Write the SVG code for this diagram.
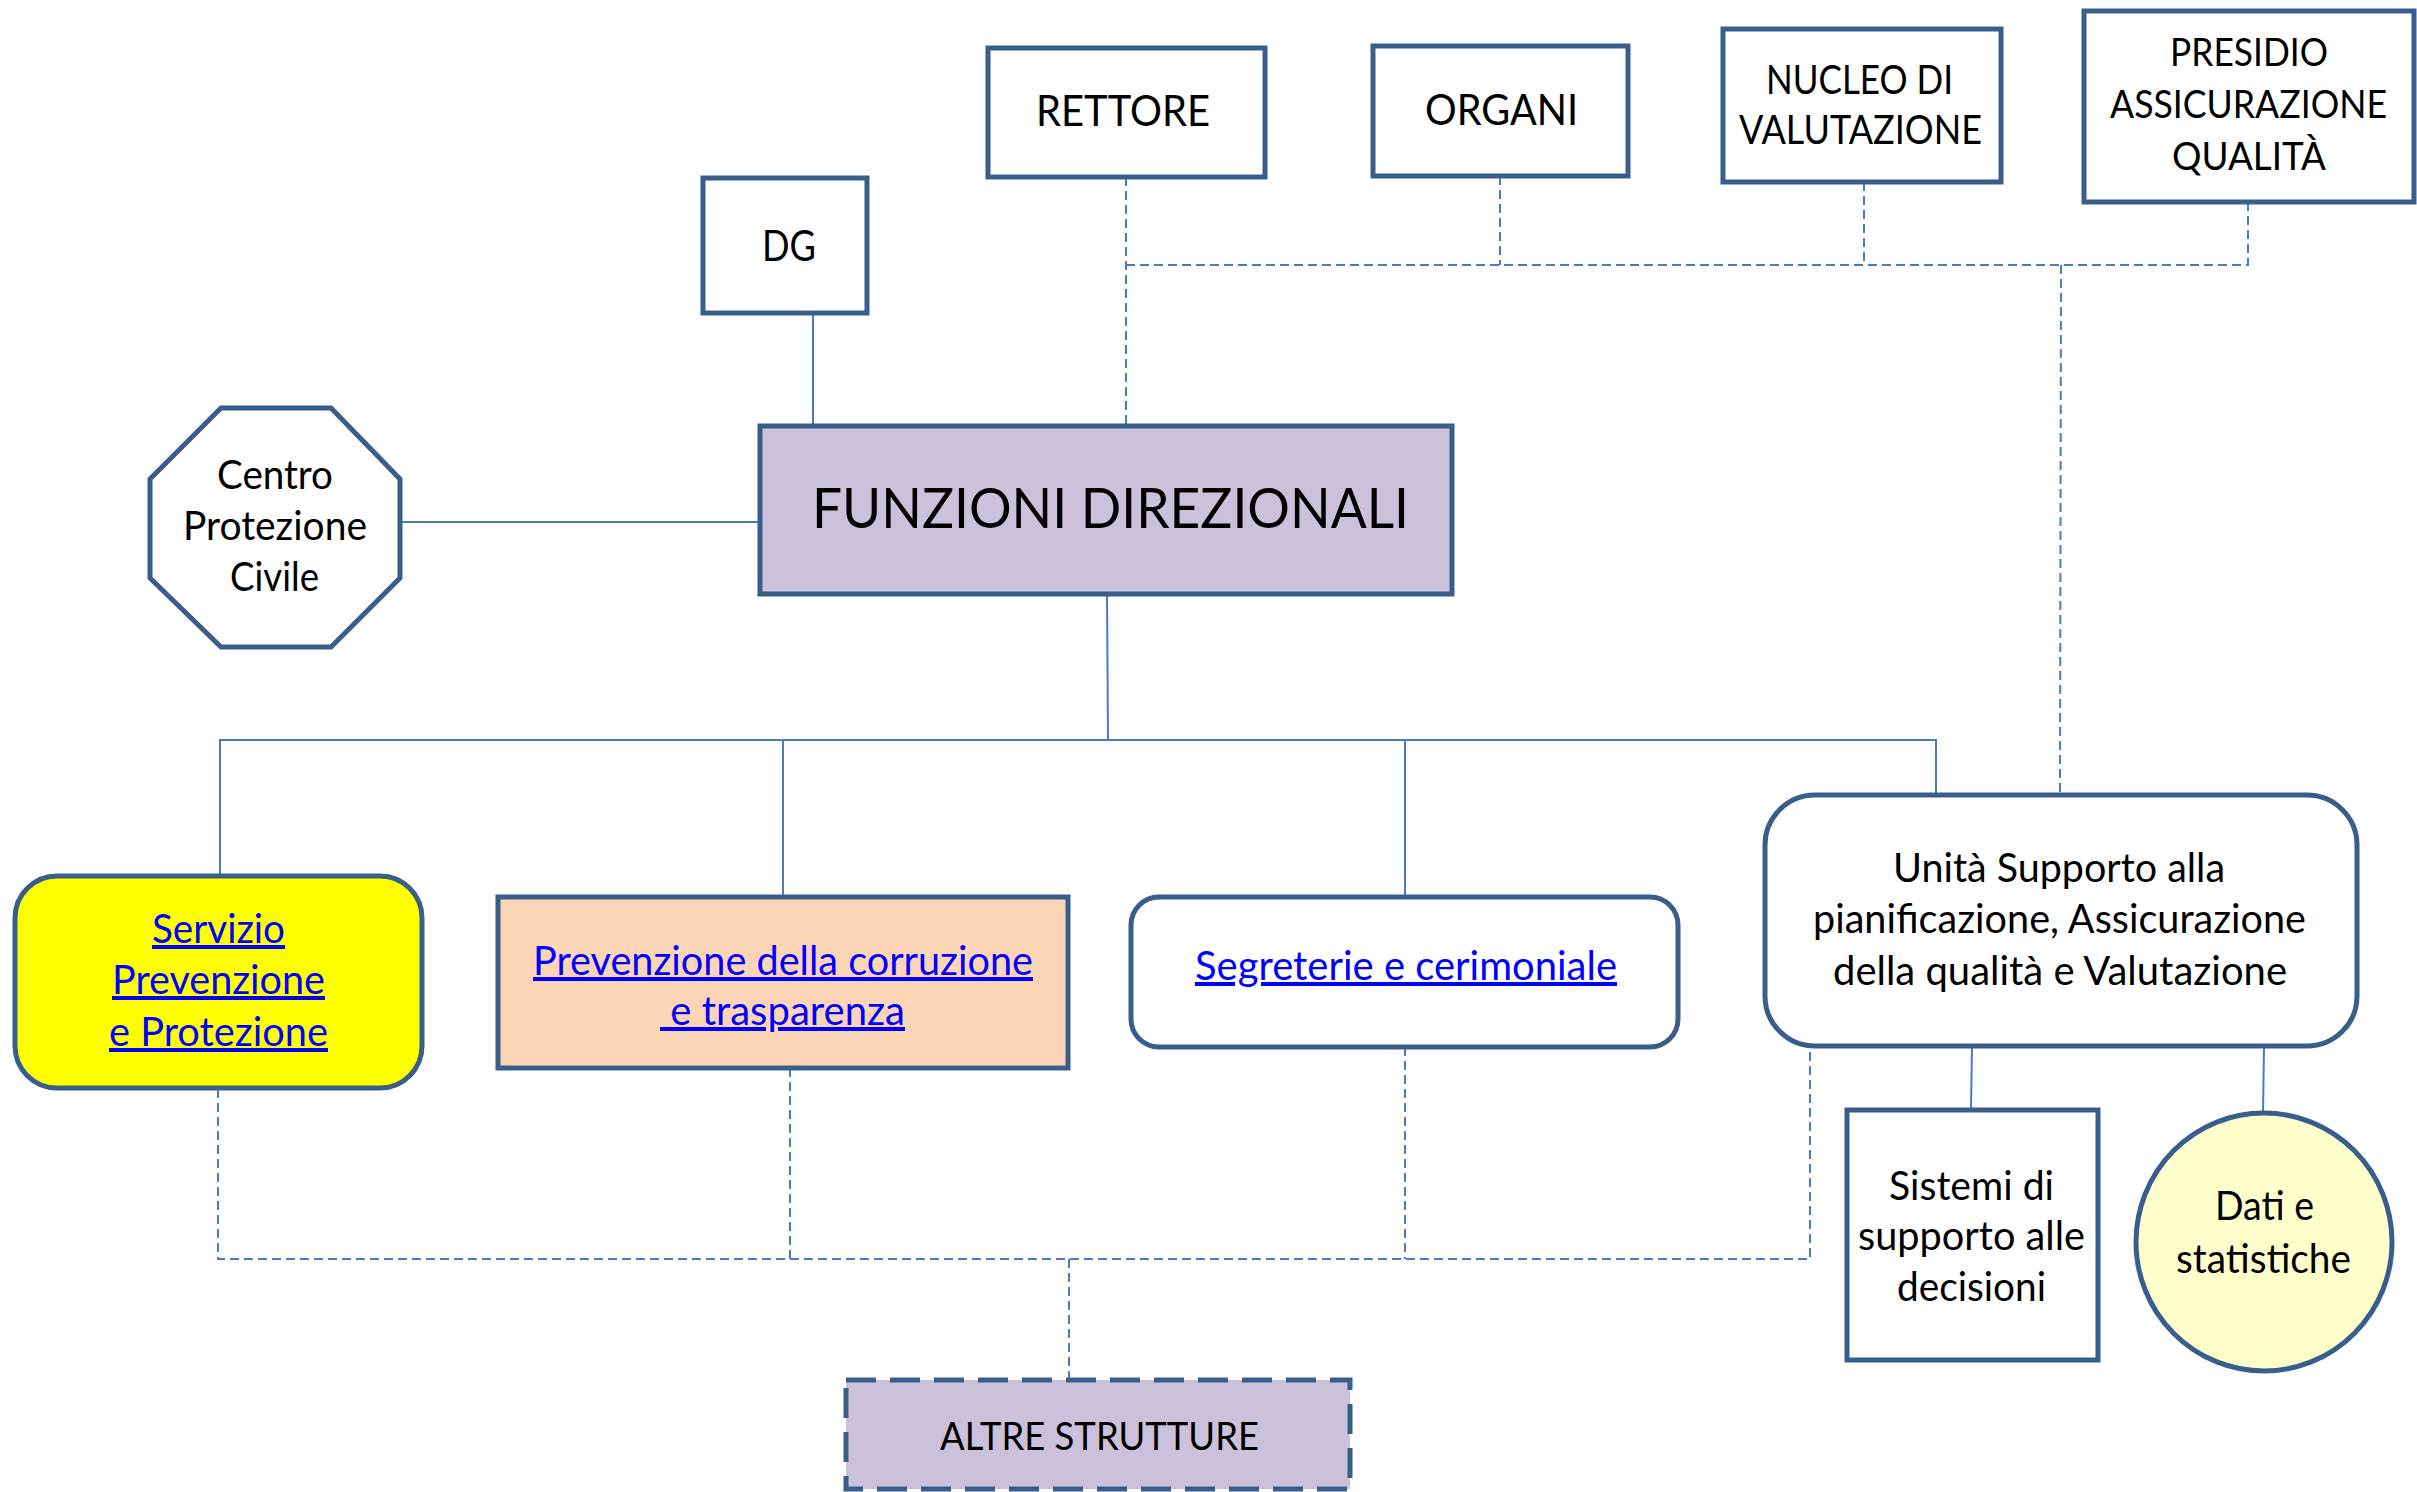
<svg xmlns="http://www.w3.org/2000/svg" width="2417" height="1492" viewBox="0 0 2417 1492">
<style>
.n{stroke:#3A5E8C;stroke-width:5;fill:#fff}
.t{font-family:Lato,"Open Sans",sans-serif;fill:#000}
.l{fill:#0000FF;text-decoration:underline}
.c{stroke:#4A7EBB;stroke-width:2;fill:none}
.d{stroke:#4A7EBB;stroke-width:2;fill:none;stroke-dasharray:9 5}
</style>
<rect width="2417" height="1492" fill="#fff"/>
<g id="connectors">
<line class="c" x1="813" y1="313" x2="813" y2="426"/>
<line class="c" x1="400" y1="522" x2="760" y2="522"/>
<polyline class="c" points="1107,594 1108,740"/>
<polyline class="c" points="220,875 220,740 1936,740 1936,793"/>
<line class="c" x1="783" y1="740" x2="783" y2="897"/>
<line class="c" x1="1405" y1="740" x2="1405" y2="897"/>
<line class="c" x1="1972" y1="1046" x2="1971" y2="1110"/>
<line class="c" x1="2264" y1="1046" x2="2263" y2="1113"/>
<line class="d" x1="1126" y1="177" x2="1126" y2="426"/>
<polyline class="d" points="1126,265 2248,265 2248,202"/>
<line class="d" x1="1500" y1="176" x2="1500" y2="265"/>
<line class="d" x1="1864" y1="182" x2="1864" y2="265"/>
<line class="d" x1="2061" y1="265" x2="2060" y2="793"/>
<polyline class="d" points="218,1089 218,1259 1810,1259 1810,1046"/>
<line class="d" x1="790" y1="1068" x2="790" y2="1259"/>
<line class="d" x1="1405" y1="1047" x2="1405" y2="1259"/>
<line class="d" x1="1069" y1="1259" x2="1069" y2="1378"/>
</g>
<g id="dg"><rect class="n" x="703" y="178" width="164" height="135"/>
<text class="t" x="762" y="261" textLength="54" lengthAdjust="spacingAndGlyphs" style="font-size:42px">DG</text></g>
<g id="rettore"><rect class="n" x="988" y="48" width="277" height="129"/>
<text class="t" x="1036" y="126" textLength="174" lengthAdjust="spacingAndGlyphs" style="font-size:42px">RETTORE</text></g>
<g id="organi"><rect class="n" x="1373" y="46" width="255" height="130"/>
<text class="t" x="1425" y="125" textLength="153" lengthAdjust="spacingAndGlyphs" style="font-size:42px">ORGANI</text></g>
<g id="nucleo"><rect class="n" x="1723" y="29" width="278" height="153"/>
<text class="t" x="1766" y="94" textLength="187" lengthAdjust="spacingAndGlyphs" style="font-size:40px">NUCLEO DI</text>
<text class="t" x="1739" y="144" textLength="243" lengthAdjust="spacingAndGlyphs" style="font-size:40px">VALUTAZIONE</text></g>
<g id="presidio"><rect class="n" x="2084" y="11" width="330" height="191"/>
<text class="t" x="2170" y="66" textLength="158" lengthAdjust="spacingAndGlyphs" style="font-size:39px">PRESIDIO</text>
<text class="t" x="2110" y="118" textLength="277" lengthAdjust="spacingAndGlyphs" style="font-size:39px">ASSICURAZIONE</text>
<text class="t" x="2172" y="170" textLength="154" lengthAdjust="spacingAndGlyphs" style="font-size:39px">QUALITÀ</text></g>
<g id="centro"><polygon class="n" points="221,408 331,408 400,479 400,578 331,647 221,647 150,578 150,479"/>
<text class="t" x="217" y="489" textLength="116" lengthAdjust="spacingAndGlyphs" style="font-size:40px">Centro</text>
<text class="t" x="183" y="540" textLength="184" lengthAdjust="spacingAndGlyphs" style="font-size:40px">Protezione</text>
<text class="t" x="230" y="591" textLength="89" lengthAdjust="spacingAndGlyphs" style="font-size:40px">Civile</text></g>
<g id="funzioni"><rect class="n" x="760" y="426" width="692" height="168" style="fill:#CCC1DA"/>
<text class="t" x="812" y="528" textLength="597" lengthAdjust="spacingAndGlyphs" style="font-size:56px">FUNZIONI DIREZIONALI</text></g>
<g id="servizio"><rect class="n" x="15" y="876" width="407" height="212" rx="42" style="fill:#FFFF00"/>
<text class="t l" x="152" y="943" textLength="133" lengthAdjust="spacingAndGlyphs" style="font-size:40px">Servizio</text>
<text class="t l" x="112" y="994" textLength="213" lengthAdjust="spacingAndGlyphs" style="font-size:40px">Prevenzione</text>
<text class="t l" x="109" y="1046" textLength="219" lengthAdjust="spacingAndGlyphs" style="font-size:40px">e Protezione</text></g>
<g id="corruzione"><rect class="n" x="498" y="897" width="570" height="171" style="fill:#FBD5B5"/>
<text class="t l" x="533" y="975" textLength="500" lengthAdjust="spacingAndGlyphs" style="font-size:40px">Prevenzione della corruzione</text>
<text class="t l" x="660" y="1025" textLength="245" lengthAdjust="spacingAndGlyphs" style="font-size:40px" xml:space="preserve"> e trasparenza</text></g>
<g id="segreterie"><rect class="n" x="1131" y="897" width="547" height="150" rx="28"/>
<text class="t l" x="1195" y="980" textLength="422" lengthAdjust="spacingAndGlyphs" style="font-size:40px">Segreterie e cerimoniale</text></g>
<g id="unita"><rect class="n" x="1765" y="795" width="592" height="251" rx="50"/>
<text class="t" x="1893" y="882" textLength="332" lengthAdjust="spacingAndGlyphs" style="font-size:40px">Unità Supporto alla</text>
<text class="t" x="1813" y="933" textLength="493" lengthAdjust="spacingAndGlyphs" style="font-size:40px">pianificazione, Assicurazione</text>
<text class="t" x="1833" y="985" textLength="454" lengthAdjust="spacingAndGlyphs" style="font-size:40px">della qualità e Valutazione</text></g>
<g id="sistemi"><rect class="n" x="1847" y="1110" width="251" height="250"/>
<text class="t" x="1889" y="1200" textLength="165" lengthAdjust="spacingAndGlyphs" style="font-size:40px">Sistemi di</text>
<text class="t" x="1858" y="1250" textLength="227" lengthAdjust="spacingAndGlyphs" style="font-size:40px">supporto alle</text>
<text class="t" x="1897" y="1301" textLength="149" lengthAdjust="spacingAndGlyphs" style="font-size:40px">decisioni</text></g>
<g id="dati"><ellipse class="n" cx="2264" cy="1242" rx="128" ry="129" style="fill:#FFFFCC"/>
<text class="t" x="2215" y="1220" textLength="99" lengthAdjust="spacingAndGlyphs" style="font-size:40px">Dati e</text>
<text class="t" x="2176" y="1273" textLength="175" lengthAdjust="spacingAndGlyphs" style="font-size:40px">statistiche</text></g>
<g id="altre"><rect class="n" x="846" y="1380" width="504" height="109" style="fill:#CCC1DA;stroke-dasharray:30 14"/>
<text class="t" x="940" y="1450" textLength="319" lengthAdjust="spacingAndGlyphs" style="font-size:39px">ALTRE STRUTTURE</text></g>
</svg>
